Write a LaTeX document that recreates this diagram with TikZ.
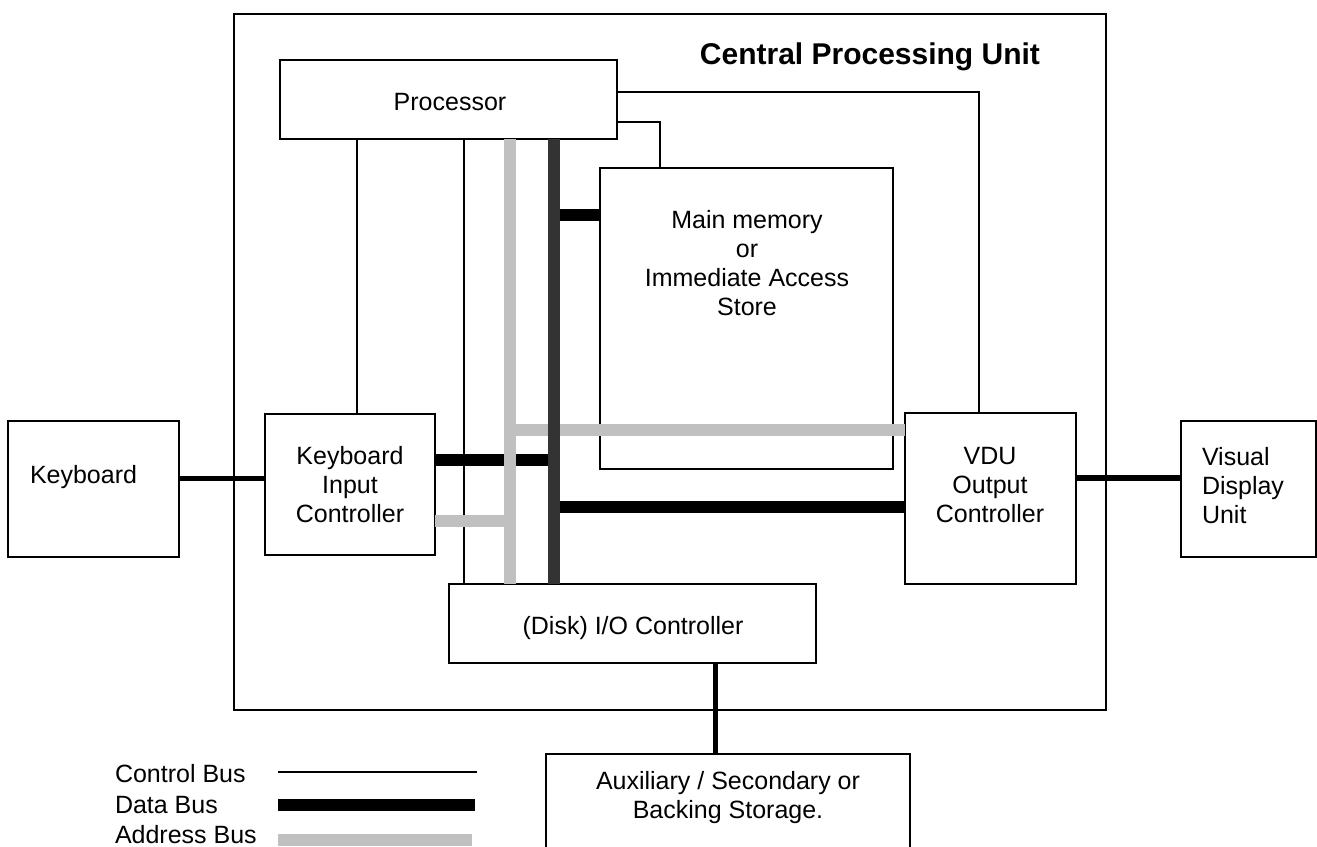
\documentclass[tikz,border=0pt]{standalone}
\usepackage{fontspec}
\setmainfont{Liberation Sans}
\definecolor{addrgray}{HTML}{C0C0C0}
\definecolor{darkgray3}{HTML}{333333}
\begin{document}
\begin{tikzpicture}[x=1pt,y=-1pt,
  font=\fontsize{25}{29}\selectfont,
  box/.style={draw, line width=1.8pt, inner sep=0pt, outer sep=0pt},
  txt/.style={inner sep=0pt, outer sep=0pt, align=center},
  ctrl/.style={line width=1.6pt},
  databus/.style={line width=12pt, draw=black},
  darkbus/.style={line width=12pt, draw=darkgray3},
  addrbus/.style={line width=12pt, draw=addrgray},
  link/.style={line width=5pt}]
\clip (0,0) rectangle (1317,846);
\fill[white] (0,0) rectangle (1317,846);

% boxes
\node[box, minimum width=872, minimum height=696] (cpu) at (670,362) {};
\node[box, minimum width=337, minimum height=79] (proc) at (448.5,99.5) {};
\node[box, minimum width=293, minimum height=301] (mem) at (746.5,318.5) {};
\node[box, minimum width=171, minimum height=136] (kbd) at (93.5,489) {};
\node[box, minimum width=170, minimum height=141] (kic) at (350,484.5) {};
\node[box, minimum width=171, minimum height=171] (vdu) at (990.5,498.5) {};
\node[box, minimum width=135, minimum height=136] (vunit) at (1248.5,489) {};
\node[box, minimum width=367, minimum height=79] (disk) at (632.5,623.5) {};
\node[box, minimum width=364, minimum height=120] (aux) at (728,814) {};

% texts
\node[txt, anchor=base east, font=\bfseries\fontsize{30}{34}\selectfont] (title) at (1040,64) {Central Processing Unit};
\node[txt, anchor=base] (proctxt) at (450,110) {Processor};
\node[txt] (memtxt) at (747,263) {Main memory\\or\\Immediate Access\\Store};
\node[txt, anchor=base west] (kbdtxt) at (30,483) {Keyboard};
\node[txt] (kictxt) at (350,485) {Keyboard\\Input\\Controller};
\node[txt] (vdutxt) at (990,485) {VDU\\Output\\Controller};
\node[txt, align=left, anchor=west] (vunittxt) at (1202,486) {Visual\\Display\\Unit};
\node[txt, anchor=base] (disktxt) at (633,634) {(Disk) I/O Controller};
\node[txt] (auxtxt) at (728,798) {Auxiliary / Secondary or\\Backing Storage.};

% bus columns and rows
\coordinate (ck) at (357,0);
\coordinate (cb) at (464,0);
\coordinate (ab) at (510,0);
\coordinate (db) at (554,0);
\coordinate (cm) at (660,0);
\coordinate (cv) at (979,0);
\coordinate (cs) at (715,0);
\coordinate (r92) at (0,92);
\coordinate (r122) at (0,122);
\coordinate (r215) at (0,215);
\coordinate (r430) at (0,430);
\coordinate (r460) at (0,460);
\coordinate (r478) at (0,478);
\coordinate (r507) at (0,507);
\coordinate (r521) at (0,521);

% control bus
\draw[ctrl] (proc.south -| ck) -- (kic.north -| ck);
\draw[ctrl] (proc.south -| cb) -- (disk.north -| cb);
\draw[ctrl] (proc.east |- r122) -| (mem.north -| cm);
\draw[ctrl] (proc.east |- r92) -| (vdu.north -| cv);

% data bus
\draw[databus] (db |- r215) -- (mem.west |- r215);
\draw[databus] (kic.east |- r460) -- (db |- r460);
\draw[databus] (db |- r507) -- (vdu.west |- r507);

% address bus
\draw[addrbus] (proc.south -| ab) -- (disk.north -| ab);
\draw[addrbus] (kic.east |- r521) -- (ab |- r521);
\draw[addrbus] (ab |- r430) -- (vdu.west |- r430);

% main data bus column
\draw[darkbus] (proc.south -| db) -- (disk.north -| db);

% external links
\draw[link] (kbd.east |- r478) -- (kic.west |- r478);
\draw[link, line width=6pt] (vdu.east |- r478) -- (vunit.west |- r478);
\draw[link] (disk.south -| cs) -- (aux.north -| cs);

% legend
\node[txt, anchor=base west] (lctrl) at (115,782) {Control Bus};
\node[txt, anchor=base west] (ldata) at (115,813) {Data Bus};
\node[txt, anchor=base west] (laddr) at (115,843) {Address Bus};
\coordinate (lc1) at (278,772); \coordinate (lc2) at (477,772);
\coordinate (ld1) at (278,805); \coordinate (ld2) at (475,805);
\coordinate (la1) at (278,840); \coordinate (la2) at (472,840);
\draw[ctrl] (lc1) -- (lc2);
\draw[databus] (ld1) -- (ld2);
\draw[addrbus] (la1) -- (la2);
\end{tikzpicture}
\end{document}
